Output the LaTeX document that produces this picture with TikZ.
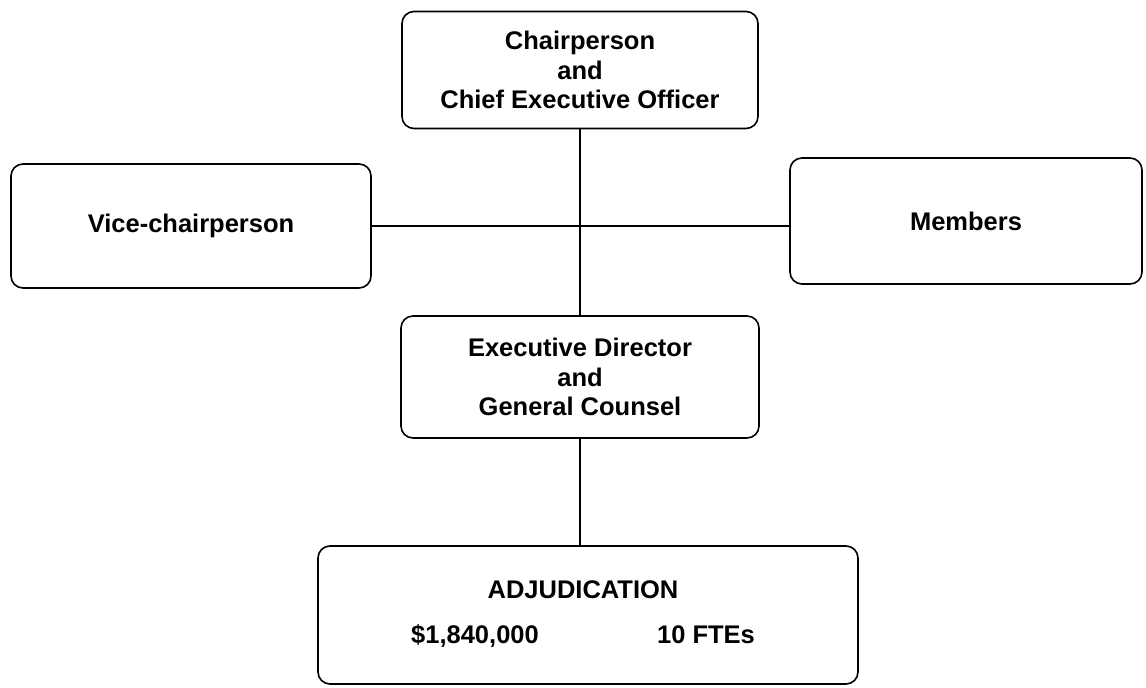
\documentclass[tikz,border=0pt]{standalone}
\usepackage{fontspec}
\setmainfont{Liberation Sans}
\begin{document}
\begin{tikzpicture}[x=1pt,y=-1pt,
  orgbox/.style={draw=black, line width=1.6pt, rounded corners=12pt, align=center,
    font=\bfseries\fontsize{25.5}{29.5}\selectfont, inner sep=0pt},
  link/.style={draw=black, line width=1.4pt},
  lbl/.style={font=\bfseries\fontsize{25.5}{29.5}\selectfont, inner sep=0pt, anchor=base}]
\useasboundingbox (0,0) rectangle (1146,688);
\node[orgbox, minimum width=356pt, minimum height=117pt] (chair) at (580,70)
  {Chairperson\\and\\Chief Executive Officer};
\node[orgbox, minimum width=360pt, minimum height=124pt] (vice) at (191,226)
  {\raisebox{-3pt}{Vice-chairperson}};
\node[orgbox, minimum width=352pt, minimum height=126pt] (members) at (966,221)
  {\raisebox{-4pt}{Members}};
\node[orgbox, minimum width=358pt, minimum height=122pt] (exec) at (580,377)
  {Executive Director\\and\\General Counsel};
\node[orgbox, minimum width=540pt, minimum height=138pt] (adj) at (588,615) {};
\node[lbl] (adjname) at (583,598) {ADJUDICATION};
\node[lbl] (budget) at (475,643) {\$1,840,000};
\node[lbl] (ftes) at (706,643) {10 FTEs};
\draw[link] (chair.south) -- (exec.north);
\draw[link] (vice.east) -- (vice.east -| members.west);
\draw[link] (exec.south) -- (exec.south |- adj.north);
\end{tikzpicture}
\end{document}
